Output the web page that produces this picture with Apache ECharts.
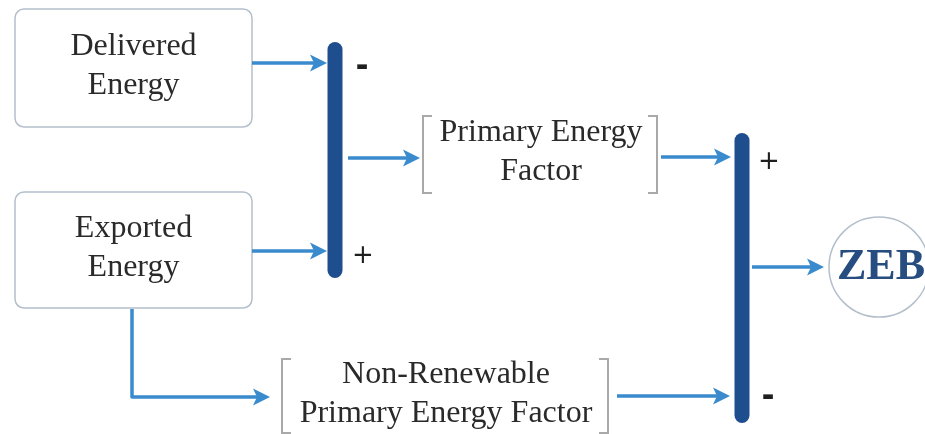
<!DOCTYPE html>
<html>
<head>
<meta charset="utf-8">
<script src="https://cdn.jsdelivr.net/npm/echarts@6/dist/echarts.min.js"></script>
<style>
  html, body { margin: 0; padding: 0; background: #ffffff; }
  #chart { width: 925px; height: 434px; }
</style>
</head>
<body>
<div id="chart"></div>
<script>
// ---- content ----
const boxLabels = ['Delivered\nEnergy', 'Exported\nEnergy'];
const factorLabels = ['Primary Energy\nFactor', 'Non-Renewable\nPrimary Energy Factor'];
const signLabels = ['-', '+', '+', '-'];
const resultLabels = ['ZEB'];

// ---- layout (diagram units: x to the right, y downward) ----
const boxLayout = [[15, 9, 252, 127], [15, 192, 252, 308]];
const bracketLayout = [[423, 116, 657, 193], [282, 359, 608, 433]];
const barLayout = [[335, 42, 278], [742, 133, 423]];
const arrowLayout = [
  [[252, 63], [327, 63]],
  [[252, 251], [327, 251]],
  [[348, 158], [420, 158]],
  [[661, 157], [731, 157]],
  [[132, 309], [132, 397], [270, 397]],
  [[617, 396], [730, 396]],
  [[752, 267], [824, 267]]
];
const signLayout = [[362, 67], [363, 256], [769, 162], [768, 397]];
const circleLayout = [[879, 267, 50]];

// ---- styles ----
const SERIF = '"Liberation Serif", "Times New Roman", serif';
const TEXT_COLOR = '#2a2a2a';
const ARROW_COLOR = '#3a8bcd';
const BAR_COLOR = '#1e4e8e';
const BOX_BORDER = '#b4bfcc';
const BRACKET_COLOR = '#a9a9a9';
const ZEB_COLOR = '#264c80';

const chart = echarts.init(document.getElementById('chart'), null, { renderer: 'canvas' });

function idx(arr) { return arr.map((_, i) => [i]); }

const option = {
  backgroundColor: '#ffffff',
  animation: false,
  grid: { left: 0, right: 0, top: 0, bottom: 0 },
  xAxis: { type: 'value', min: 0, max: 925, show: false },
  yAxis: { type: 'value', min: 0, max: 434, inverse: true, show: false },
  series: [
    {
      // boxes
      type: 'custom', coordinateSystem: 'cartesian2d', data: idx(boxLabels),
      renderItem: function (params, api) {
        const i = api.value(0);
        const b = boxLayout[i];
        const p1 = api.coord([b[0], b[1]]);
        const p2 = api.coord([b[2], b[3]]);
        return {
          type: 'group',
          children: [
            { type: 'rect', shape: { x: p1[0], y: p1[1], width: p2[0] - p1[0], height: p2[1] - p1[1], r: 9 },
              style: { fill: '#ffffff', stroke: BOX_BORDER, lineWidth: 1.5 } },
            { type: 'text', x: (p1[0] + p2[0]) / 2, y: (p1[1] + p2[1]) / 2 - 2,
              style: { text: boxLabels[i], font: '32px ' + SERIF, fill: TEXT_COLOR,
                       align: 'center', verticalAlign: 'middle', lineHeight: 39 } }
          ]
        };
      }
    },
    {
      // factor brackets
      type: 'custom', coordinateSystem: 'cartesian2d', data: idx(factorLabels),
      renderItem: function (params, api) {
        const i = api.value(0);
        const b = bracketLayout[i];
        const p1 = api.coord([b[0], b[1]]);
        const p2 = api.coord([b[2], b[3]]);
        const s = 9;
        return {
          type: 'group',
          children: [
            { type: 'polyline', shape: { points: [[p1[0] + s, p1[1]], [p1[0], p1[1]], [p1[0], p2[1]], [p1[0] + s, p2[1]]] },
              style: { stroke: BRACKET_COLOR, lineWidth: 2, fill: null } },
            { type: 'polyline', shape: { points: [[p2[0] - s, p1[1]], [p2[0], p1[1]], [p2[0], p2[1]], [p2[0] - s, p2[1]]] },
              style: { stroke: BRACKET_COLOR, lineWidth: 2, fill: null } },
            { type: 'text', x: (p1[0] + p2[0]) / 2 + 1, y: (p1[1] + p2[1]) / 2 - 2,
              style: { text: factorLabels[i], font: '32px ' + SERIF, fill: TEXT_COLOR,
                       align: 'center', verticalAlign: 'middle', lineHeight: 39 } }
          ]
        };
      }
    },
    {
      // summing bars
      type: 'custom', coordinateSystem: 'cartesian2d', data: idx(barLayout),
      renderItem: function (params, api) {
        const b = barLayout[api.value(0)];
        const p1 = api.coord([b[0], b[1]]);
        const p2 = api.coord([b[0], b[2]]);
        const w = 15;
        return { type: 'rect', shape: { x: p1[0] - w / 2, y: p1[1], width: w, height: p2[1] - p1[1], r: w / 2 },
                 style: { fill: BAR_COLOR } };
      }
    },
    {
      // arrows
      type: 'custom', coordinateSystem: 'cartesian2d', data: idx(arrowLayout),
      renderItem: function (params, api) {
        const pts = arrowLayout[api.value(0)].map(p => api.coord(p));
        const n = pts.length;
        const tip = pts[n - 1], prev = pts[n - 2];
        const dx = tip[0] - prev[0], dy = tip[1] - prev[1];
        const len = Math.sqrt(dx * dx + dy * dy);
        const ux = dx / len, uy = dy / len;
        const L = 17, H = 8.5, N = 13;
        const shaft = pts.slice(0, n - 1).concat([[tip[0] - ux * N, tip[1] - uy * N]]);
        const head = [
          tip,
          [tip[0] - ux * L - uy * H, tip[1] - uy * L + ux * H],
          [tip[0] - ux * N, tip[1] - uy * N],
          [tip[0] - ux * L + uy * H, tip[1] - uy * L - ux * H]
        ];
        return {
          type: 'group',
          children: [
            { type: 'polyline', shape: { points: shaft }, style: { stroke: ARROW_COLOR, lineWidth: 3.5, fill: null, lineJoin: 'round' } },
            { type: 'polygon', shape: { points: head }, style: { fill: ARROW_COLOR } }
          ]
        };
      }
    },
    {
      // signs
      type: 'custom', coordinateSystem: 'cartesian2d', data: idx(signLabels),
      renderItem: function (params, api) {
        const i = api.value(0);
        const p = api.coord(signLayout[i]);
        const minus = signLabels[i] === '-';
        return { type: 'text', x: p[0], y: p[1],
                 style: { text: signLabels[i], font: (minus ? 'bold 38px "Liberation Sans", sans-serif' : '26px "DejaVu Sans", sans-serif'),
                          fill: '#1f1f1f', align: 'center', verticalAlign: 'middle' } };
      }
    },
    {
      // result circle
      type: 'custom', coordinateSystem: 'cartesian2d', data: idx(resultLabels),
      renderItem: function (params, api) {
        const i = api.value(0);
        const c = circleLayout[i];
        const p = api.coord([c[0], c[1]]);
        return {
          type: 'group',
          children: [
            { type: 'circle', shape: { cx: p[0], cy: p[1], r: c[2] }, style: { fill: '#ffffff', stroke: BOX_BORDER, lineWidth: 1.5 } },
            { type: 'text', x: p[0] + 2, y: p[1] + 1,
              style: { text: resultLabels[i], font: 'bold 44px ' + SERIF, fill: ZEB_COLOR, align: 'center', verticalAlign: 'middle' } }
          ]
        };
      }
    }
  ]
};

chart.setOption(option);
</script>
</body>
</html>
